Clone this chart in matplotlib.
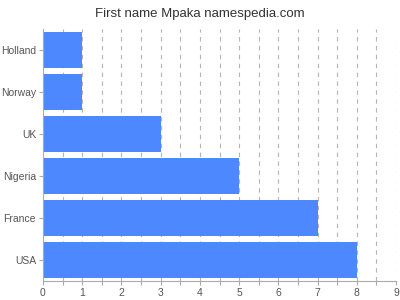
import matplotlib
matplotlib.use("Agg")
import matplotlib.pyplot as plt
import numpy as np

plt.rcParams["font.family"] = ["Liberation Sans", "DejaVu Sans"]

names = ["Holland", "Norway", "UK", "Nigeria", "France", "USA"]
counts = [1, 1, 3, 5, 7, 8]

fig = plt.figure(figsize=(4, 3), dpi=100)
ax = fig.add_axes([0.1075, 0.063, 0.8825, 0.84])

pos = np.arange(len(names))
ax.barh(pos, counts, height=0.84, color="#4d88ff", zorder=2)

ax.set_xlim(0, 9)
ax.set_ylim(5.5, -0.5)
ax.set_yticks(pos)
ax.set_yticklabels(names)
ax.set_xticks(range(10))
ax.set_xticks(np.arange(0.5, 9, 1), minor=True)

for x in np.arange(0.5, 9.01, 0.5):
    ax.axvline(x, color="#b4b4b4", linestyle=(0, (4, 4)), linewidth=0.8, zorder=1)

for s in ["top", "right"]:
    ax.spines[s].set_visible(False)
ax.spines["left"].set_color("#aaaaaa")
ax.spines["bottom"].set_color("#aaaaaa")
ax.tick_params(axis="both", which="both", colors="#aaaaaa", labelcolor="#555555",
               labelsize=7.5, length=3, width=0.8, pad=2)

fig.suptitle("First name Mpaka namespedia.com", fontsize=9.5, color="#333333", y=0.975)

fig.savefig("out.png", dpi=100)
